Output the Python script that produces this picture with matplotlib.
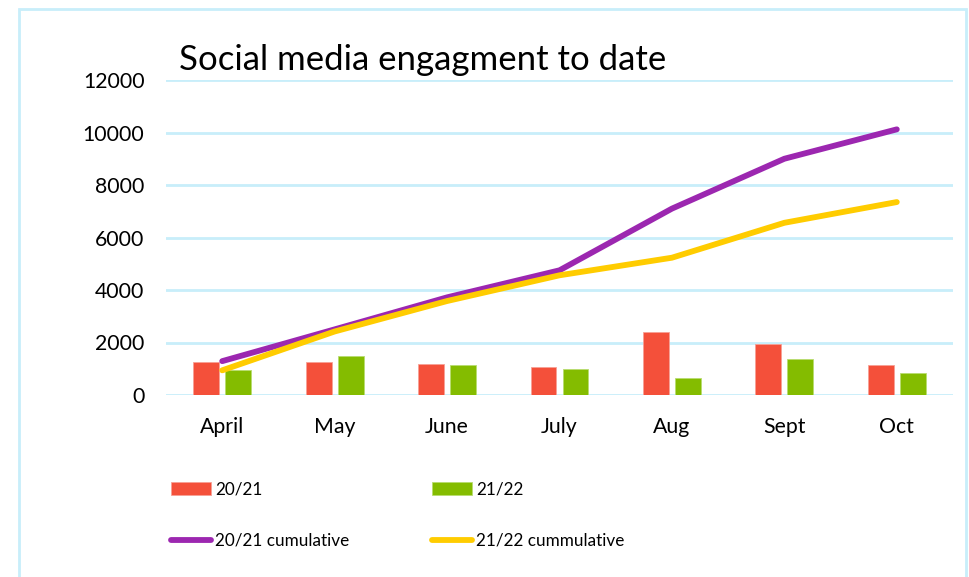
import matplotlib
matplotlib.use("Agg")
import matplotlib.pyplot as plt
from matplotlib.patches import Rectangle
import numpy as np

plt.rcParams['font.family'] = ['Lato', 'DejaVu Sans']

months = ["April", "May", "June", "July", "Aug", "Sept", "Oct"]
monthly_2021 = [1257, 1250, 1192, 1067, 2411, 1931, 1131]
monthly_2122 = [952, 1497, 1131, 1002, 648, 1371, 838]
cumulative_2021 = [1290, 2500, 3720, 4750, 7100, 9000, 10120]
cumulative_2122 = [940, 2420, 3580, 4560, 5230, 6560, 7350]
y_ticks = [0, 2000, 4000, 6000, 8000, 10000, 12000]

RED = "#F4503A"
GREEN = "#84BC00"
PURPLE = "#9C27B0"
YELLOW = "#FFCC00"
GRID = "#C8EEFA"

W, H = 969, 577
fig = plt.figure(figsize=(W / 100, H / 100), dpi=100)
ax = fig.add_axes([166 / W, 1 - 395 / H, (953 - 166) / W, (395 - 80) / H])

x = np.arange(len(months))
bw = 0.23
off = 0.142
ax.bar(x - off, monthly_2021, width=bw, color=RED, edgecolor="#F7A195",
       linewidth=0.6, label="20/21", zorder=3)
ax.bar(x + off, monthly_2122, width=bw, color=GREEN, edgecolor="#B8DC70",
       linewidth=0.6, label="21/22", zorder=3)
ax.plot(x, cumulative_2021, color=PURPLE, lw=4.2, solid_capstyle="round",
        solid_joinstyle="round", label="20/21 cumulative", zorder=4)
ax.plot(x, cumulative_2122, color=YELLOW, lw=4.2, solid_capstyle="round",
        solid_joinstyle="round", label="21/22 cummulative", zorder=4)

ax.set_xlim(-0.5, len(months) - 0.5)
ax.set_ylim(0, 12000)
ax.set_yticks(y_ticks)
ax.set_yticklabels([str(v) for v in y_ticks])
ax.set_xticks(x)
ax.set_xticklabels(months)
ax.tick_params(axis="both", length=0, labelsize=15.3, colors="black")
ax.tick_params(axis="y", pad=15.5)
ax.tick_params(axis="x", pad=16)
ax.grid(axis="y", color=GRID, lw=2, zorder=0)
for s in ax.spines.values():
    s.set_visible(False)

fig.text(179 / W, 1 - 70 / H, "Social media engagment to date", fontsize=25,
         va="baseline", ha="left", color="black")

handles, labels = ax.get_legend_handles_labels()
order = [labels.index(l) for l in ["20/21", "20/21 cumulative", "21/22", "21/22 cummulative"]]
leg = fig.legend([handles[i] for i in order], [labels[i] for i in order],
                 ncol=2, loc="upper left", bbox_to_anchor=(166 / W, 1 - 476 / H),
                 frameon=False, fontsize=12.3,
                 handlelength=2.35, handleheight=0.78, handletextpad=0.24,
                 labelspacing=2.1, columnspacing=4.8, borderaxespad=0,
                 borderpad=0.3)

fig.patches.append(Rectangle((19 / W, -0.05), (966 - 19) / W, 1.05 - 9 / H,
                             transform=fig.transFigure, fill=False,
                             edgecolor=GRID, lw=2))

fig.savefig("out.png", dpi=100, facecolor="white")
